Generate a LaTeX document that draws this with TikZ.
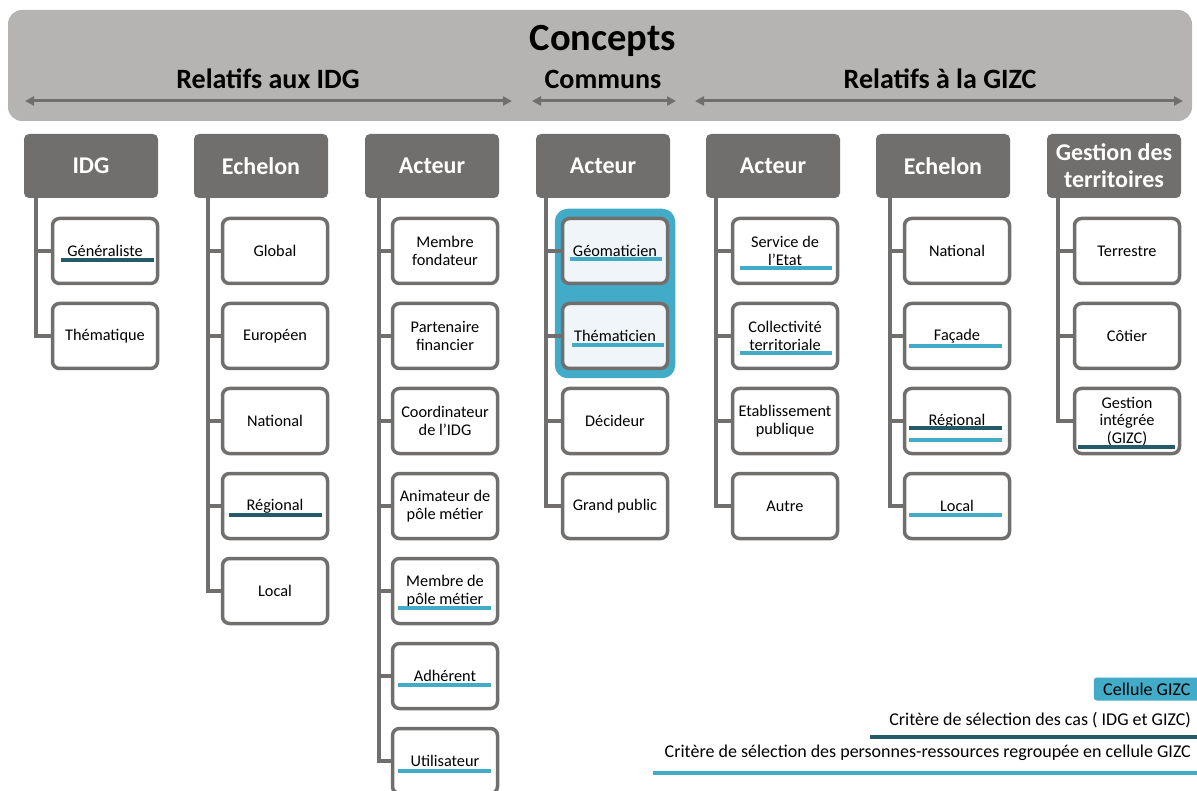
\documentclass[tikz,border=0pt]{standalone}
\usepackage{fontspec}
\setmainfont{Carlito}
\usetikzlibrary{calc,fit,backgrounds,arrows.meta}
\definecolor{banner}{HTML}{B5B4B2}
\definecolor{hdr}{HTML}{706F6D}
\definecolor{dk}{HTML}{245A69}
\definecolor{lt}{HTML}{42ABC7}
\definecolor{pale}{HTML}{EFF5F8}
\begin{document}
\begin{tikzpicture}[x=1pt,y=-1pt,
 hbox/.style={fill=hdr, rounded corners=5pt, minimum width=134pt, minimum height=64pt, text=white, font=\bfseries\fontsize{24}{27}\selectfont, align=center, inner sep=0pt},
 cbox/.style={draw=hdr, line width=3.5pt, fill=white, rounded corners=7pt, minimum width=105pt, minimum height=65pt, font=\fontsize{16.3}{18.5}\selectfont, align=center, inner sep=0pt},
 conn/.style={draw=hdr, line width=3.5pt},
 dline/.style={draw=dk, line width=4pt},
 lline/.style={draw=lt, line width=4pt},
 spanarrow/.style={draw=hdr, line width=3pt, {Triangle[width=9pt,length=9pt]}-{Triangle[width=9pt,length=9pt]}},
 ttl/.style={font=\bfseries\fontsize{28}{30}\selectfont, text=black},
 leg/.style={font=\fontsize{18}{20}\selectfont, anchor=east, inner sep=0pt},
]
\useasboundingbox (0,0) rectangle (1197,791);
% banner
\fill[banner, rounded corners=14pt] (8,10) rectangle (1192,121);
\node[font=\bfseries\fontsize{38.5}{40}\selectfont] (title) at (603,41) {Concepts};
\node[ttl] (t1) at (268,79) {Relatifs aux IDG};
\node[ttl] (t2) at (603,79) {Communs};
\node[ttl] (t3) at (940,79) {Relatifs à la GIZC};
\coordinate (a1l) at (25,101); \coordinate (a1r) at (512,101);
\coordinate (a2l) at (532,101); \coordinate (a2r) at (676,101);
\coordinate (a3l) at (695,101); \coordinate (a3r) at (1183,101);
\draw[spanarrow] (a1l) -- (a1r);
\draw[spanarrow] (a2l) -- (a2r);
\draw[spanarrow] (a3l) -- (a3r);

% headers
\node[hbox] (h1) at (91,166) {IDG};
\node[hbox] (h2) at (261,166) {Echelon};
\node[hbox] (h3) at (432,166) {Acteur};
\node[hbox] (h4) at (603,166) {Acteur};
\node[hbox] (h5) at (773,166) {Acteur};
\node[hbox] (h6) at (943,166) {Echelon};
\node[hbox, font=\bfseries\fontsize{24}{27}\selectfont] (h7) at (1114,166) {Gestion des\\territoires};

% column 1
\node[cbox] (a1) at (105,251) {Généraliste};
\node[cbox] (a2) at (105,336) {Thématique};
% column 2
\node[cbox] (b1) at (275,251) {Global};
\node[cbox] (b2) at (275,336) {Européen};
\node[cbox] (b3) at (275,421) {National};
\node[cbox] (b4) at (275,506) {Régional};
\node[cbox] (b5) at (275,591) {Local};
% column 3
\node[cbox] (c1) at (445,251) {Membre\\fondateur};
\node[cbox] (c2) at (445,336) {Partenaire\\financier};
\node[cbox] (c3) at (445,421) {Coordinateur\\de l’IDG};
\node[cbox] (c4) at (445,506) {Animateur de\\pôle métier};
\node[cbox] (c5) at (445,591) {Membre de\\pôle métier};
\node[cbox] (c6) at (445,676) {Adhérent};
\node[cbox] (c7) at (445,761) {Utilisateur};
% column 4
\node[cbox, fill=pale] (d1) at (615,251) {Géomaticien};
\node[cbox, fill=pale] (d2) at (615,336) {Thématicien};
\node[cbox] (d3) at (615,421) {Décideur};
\node[cbox] (d4) at (615,506) {Grand public};
% column 5
\node[cbox] (e1) at (785,251) {Service de\\l’Etat};
\node[cbox] (e2) at (785,336) {Collectivité\\territoriale};
\node[cbox] (e3) at (785,421) {Etablissement\\publique};
\node[cbox] (e4) at (785,506) {Autre};
% column 6
\node[cbox] (f1) at (957,251) {National};
\node[cbox] (f2) at (957,336) {Façade};
\node[cbox] (f3) at (957,421) {Régional};
\node[cbox] (f4) at (957,506) {Local};
% column 7
\node[cbox] (g1) at (1127,251) {Terrestre};
\node[cbox] (g2) at (1127,336) {Côtier};
\node[cbox, font=\fontsize{16.3}{17.5}\selectfont] (g3) at (1127,421) {Gestion\\intégrée\\(GIZC)};

% cellule GIZC highlight
\begin{pgfonlayer}{background}
\node[fit=(d1)(d2), fill=lt, rounded corners=13pt, inner xsep=6pt, inner ysep=8pt] (cell) {};
\end{pgfonlayer}

% connectors
\foreach \c in {a1,a2} \draw[conn] ($(h1.south west)+(12,0)$) |- (\c.west);
\foreach \c in {b1,b2,b3,b4,b5} \draw[conn] ($(h2.south west)+(14,0)$) |- (\c.west);
\foreach \c in {c1,c2,c3,c4,c5,c6,c7} \draw[conn] ($(h3.south west)+(14,0)$) |- (\c.west);
\foreach \c in {d1,d2,d3,d4} \draw[conn] ($(h4.south west)+(10,0)$) |- (\c.west);
\foreach \c in {e1,e2,e3,e4} \draw[conn] ($(h5.south west)+(10,0)$) |- (\c.west);
\foreach \c in {f1,f2,f3,f4} \draw[conn] ($(h6.south west)+(14,0)$) |- (\c.west);
\foreach \c in {g1,g2,g3} \draw[conn] ($(h7.south west)+(11,0)$) |- (\c.west);

% underlines
\draw[dline] (a1.center) ++(-44,9) -- ++(93,0);
\draw[dline] (b4.center) ++(-46,9) -- ++(93,0);
\draw[lline] (c5.center) ++(-47,17) -- ++(93,0);
\draw[lline] (c6.center) ++(-47,9) -- ++(93,0);
\draw[lline] (c7.center) ++(-47,10) -- ++(93,0);
\draw[lline] (d1.center) ++(-45,8) -- ++(92,0);
\draw[lline] (d2.center) ++(-43,9) -- ++(92,0);
\draw[lline] (e1.center) ++(-45,17) -- ++(92,0);
\draw[lline] (e2.center) ++(-45,17) -- ++(92,0);
\draw[lline] (f2.center) ++(-48,10) -- ++(93,0);
\draw[dline] (f3.center) ++(-48,7) -- ++(93,0);
\draw[lline] (f3.center) ++(-48,19) -- ++(93,0);
\draw[lline] (f4.center) ++(-48,9) -- ++(93,0);
\draw[dline] (g3.center) ++(-49,26) -- ++(97,0);

% legend
\node[fill=lt, rounded corners=3pt, minimum width=106pt, minimum height=23pt, font=\fontsize{18}{20}\selectfont, anchor=east, inner sep=0pt, text depth=0pt] (l1) at (1200,689) {Cellule GIZC\hspace{9pt}};
\node[leg] (l2) at (1191,720) {Critère de sélection des cas ( IDG et GIZC)};
\draw[dline] (870,737) -- (1197,737);
\node[leg] (l3) at (1191,753) {Critère de sélection des personnes-ressources regroupée en cellule GIZC};
\draw[lline] (653,773) -- (1197,773);
\end{tikzpicture}
\end{document}
